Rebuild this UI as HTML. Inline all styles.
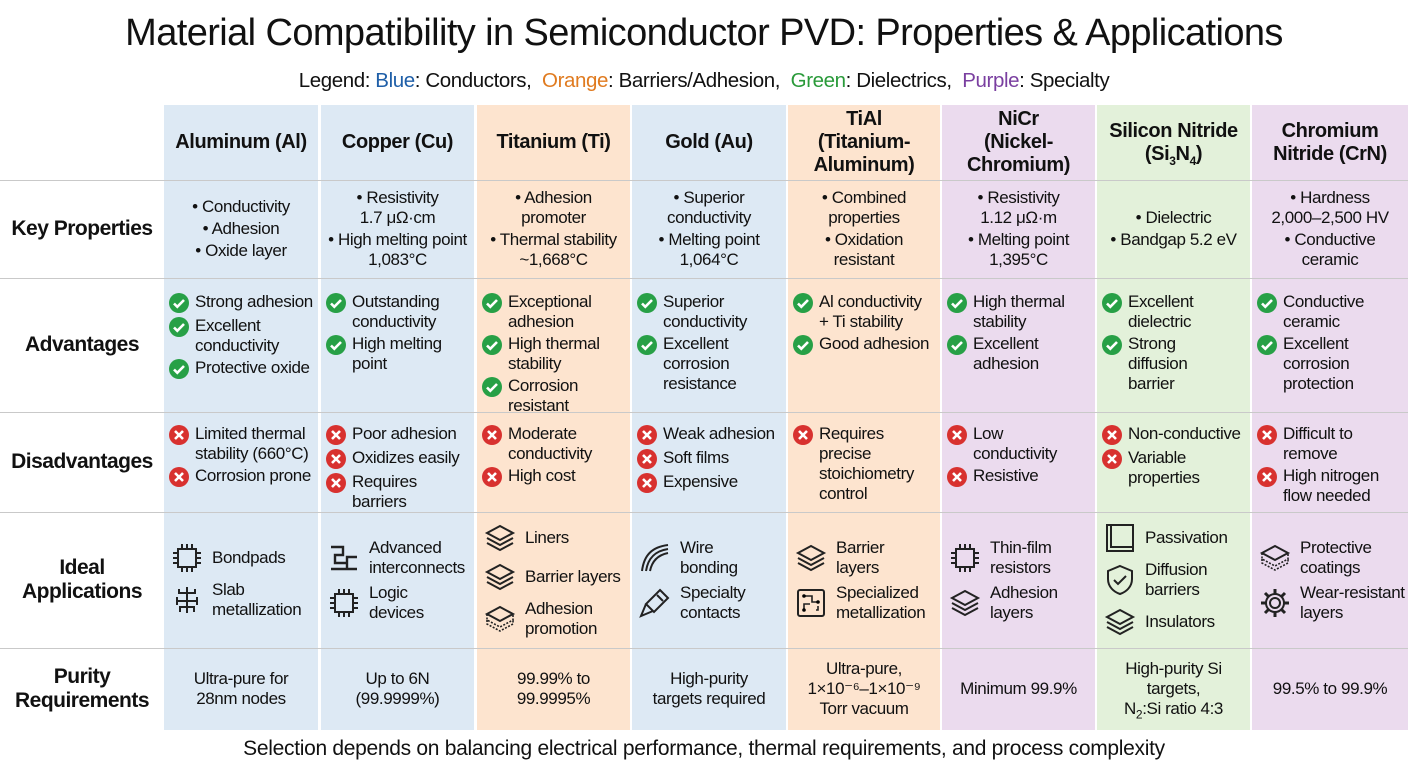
<!DOCTYPE html>
<html><head><meta charset="utf-8">
<style>
*{margin:0;padding:0;box-sizing:border-box}
body{width:1408px;height:768px;background:#fff;font-family:"Liberation Sans",sans-serif;color:#111;position:relative;overflow:hidden}
.abs{position:absolute}
#title{left:0;width:1408px;top:12px;text-align:center;font-size:38px;letter-spacing:-0.6px}
#legend{left:0;width:1408px;top:69px;text-align:center;font-size:20.5px;letter-spacing:-0.4px}
#footer{left:0;width:1408px;top:737px;text-align:center;font-size:21px;letter-spacing:-0.3px}
.col{position:absolute;top:105px;height:625px}
.blue{background:#dde9f4}.orange{background:#fde4cf}.purple{background:#ebdbee}.green{background:#e3f1da}
.hline{position:absolute;left:0;width:1408px;height:1px;background:#c9c9c9}
.cell{position:absolute;display:flex;flex-direction:column;justify-content:center;font-size:17px;letter-spacing:-0.4px;line-height:20px}
.c{align-items:center;text-align:center}
.hdr{font-weight:bold;font-size:20px;line-height:23px;text-align:center;align-items:center}
.rh{font-weight:bold;font-size:21px;line-height:24px;text-align:center;align-items:center;letter-spacing:-0.5px}
.it{display:flex;align-items:flex-start;margin:2px 0}
.it .ic{flex:0 0 22px;width:22px;height:22px;margin-right:5px}
.ap{display:flex;align-items:center;margin:5px 0}
.ap svg{flex:0 0 34px;margin-right:8px}
sub{font-size:12px;line-height:0}
</style></head><body>
<div id="title" class="abs">Material Compatibility in Semiconductor PVD: Properties &amp; Applications</div>
<div id="legend" class="abs">Legend: <span style="color:#1f5fa8">Blue</span>: Conductors, &nbsp;<span style="color:#e07b20">Orange</span>: Barriers/Adhesion, &nbsp;<span style="color:#2a9a3a">Green</span>: Dielectrics, &nbsp;<span style="color:#7a3fa0">Purple</span>: Specialty</div>
<div id="table"></div>
<div id="footer" class="abs">Selection depends on balancing electrical performance, thermal requirements, and process complexity</div>
<script>
const colX=[164,321,477,632,788,942,1097,1252];
const colW=[154,153,153,154,152,153,153,156];
const colors=['blue','blue','orange','blue','orange','purple','green','purple'];
const headers=['Aluminum (Al)','Copper (Cu)','Titanium (Ti)','Gold (Au)','TiAl<br>(Titanium-<br>Aluminum)','NiCr<br>(Nickel-<br>Chromium)','Silicon Nitride<br>(Si<sub>3</sub>N<sub>4</sub>)','Chromium<br>Nitride (CrN)'];
const rowY=[105,180,278,412,512,648,730];
const rowNames=['','Key Properties','Advantages','Disadvantages','Ideal<br>Applications','Purity<br>Requirements'];
const keyProps=[
['• Conductivity','• Adhesion','• Oxide layer'],
['• Resistivity<br>1.7 μΩ·cm','• High melting point<br>1,083°C'],
['• Adhesion<br>promoter','• Thermal stability<br>~1,668°C'],
['• Superior<br>conductivity','• Melting point<br>1,064°C'],
['• Combined<br>properties','• Oxidation<br>resistant'],
['• Resistivity<br>1.12 μΩ·m','• Melting point<br>1,395°C'],
['• Dielectric','• Bandgap 5.2 eV'],
['• Hardness<br>2,000–2,500 HV','• Conductive<br>ceramic']];
const adv=[
['Strong adhesion','Excellent<br>conductivity','Protective oxide'],
['Outstanding<br>conductivity','High melting<br>point'],
['Exceptional<br>adhesion','High thermal<br>stability','Corrosion<br>resistant'],
['Superior<br>conductivity','Excellent<br>corrosion<br>resistance'],
['Al conductivity<br>+ Ti stability','Good adhesion'],
['High thermal<br>stability','Excellent<br>adhesion'],
['Excellent<br>dielectric','Strong<br>diffusion<br>barrier'],
['Conductive<br>ceramic','Excellent<br>corrosion<br>protection']];
const dis=[
['Limited thermal<br>stability (660°C)','Corrosion prone'],
['Poor adhesion','Oxidizes easily','Requires<br>barriers'],
['Moderate<br>conductivity','High cost'],
['Weak adhesion','Soft films','Expensive'],
['Requires<br>precise<br>stoichiometry<br>control'],
['Low<br>conductivity','Resistive'],
['Non-conductive','Variable<br>properties'],
['Difficult to<br>remove','High nitrogen<br>flow needed']];
const apps=[
[['chip','Bondpads'],['tree','Slab<br>metallization']],
[['wire','Advanced<br>interconnects'],['chip','Logic<br>devices']],
[['layers','Liners'],['layers','Barrier layers'],['slab','Adhesion<br>promotion']],
[['bond','Wire<br>bonding'],['probe','Specialty<br>contacts']],
[['layers','Barrier<br>layers'],['board','Specialized<br>metallization']],
[['chip','Thin-film<br>resistors'],['layers','Adhesion<br>layers']],
[['square','Passivation'],['shield','Diffusion<br>barriers'],['layers','Insulators']],
[['slab','Protective<br>coatings'],['gear','Wear-resistant<br>layers']]];
const purity=['Ultra-pure for<br>28nm nodes','Up to 6N<br>(99.9999%)','99.99% to<br>99.9995%','High-purity<br>targets required','Ultra-pure,<br>1×10⁻⁶–1×10⁻⁹<br>Torr vacuum','Minimum 99.9%','High-purity Si<br>targets,<br>N<sub>2</sub>:Si ratio 4:3','99.5% to 99.9%'];

const T=document.getElementById('table');
function mk(cls,x,y,w,h,html){const d=document.createElement('div');d.className=cls;d.style.left=x+'px';d.style.top=y+'px';d.style.width=w+'px';d.style.height=h+'px';if(html!==undefined)d.innerHTML='<div>'+html+'</div>';T.appendChild(d);return d;}
const check='<svg class="ic" viewBox="0 0 22 22"><circle cx="11" cy="11" r="10" fill="#27a046"/><path d="M6 11.5l3.3 3.3L16 8" stroke="#fff" stroke-width="2.6" fill="none"/></svg>';
const cross='<svg class="ic" viewBox="0 0 22 22"><circle cx="11" cy="11" r="10" fill="#d8312f"/><path d="M7 7l8 8M15 7l-8 8" stroke="#fff" stroke-width="2.6"/></svg>';
const icons={
chip:'<rect x="8" y="8" width="18" height="18" fill="none" stroke="#222" stroke-width="2"/><path d="M12 8V3M17 8V3M22 8V3M12 26v5M17 26v5M22 26v5M8 12H3M8 17H3M8 22H3M26 12h5M26 17h5M26 22h5" stroke="#222" stroke-width="2"/>',
tree:'<path d="M17 4v26M17 10h-8v-4M17 10h8v-4M17 18h-10M17 18h10M17 24h-7v5M17 24h7v5M7 14v8M27 14v8" stroke="#222" stroke-width="2" fill="none"/>',
wire:'<path d="M4 6h12v8H8v8h12v-6h10M4 28h26M20 22v6" stroke="#222" stroke-width="2.4" fill="none"/>',
layers:'<path d="M17 5l13 7-13 7-13-7z" fill="none" stroke="#222" stroke-width="2"/><path d="M4 17l13 7 13-7M4 22l13 7 13-7" fill="none" stroke="#222" stroke-width="2"/>',
slab:'<path d="M17 5l13 7-13 7-13-7z" fill="none" stroke="#222" stroke-width="2"/><path d="M4 12v6l13 7 13-7v-6M4 18v4l13 7 13-7v-4" fill="none" stroke="#222" stroke-width="1.6" stroke-dasharray="2 1.5"/>',
bond:'<path d="M4 30C6 14 14 6 30 4M8 30C10 17 17 10 30 8M12 30C14 20 20 14 30 12" fill="none" stroke="#222" stroke-width="2"/>',
probe:'<path d="M22 4l8 8-14 14-8-8z" fill="none" stroke="#222" stroke-width="2"/><path d="M8 18l-5 12 12-5M19 9l6 6" fill="none" stroke="#222" stroke-width="2"/>',
board:'<rect x="4" y="4" width="26" height="26" rx="2" fill="none" stroke="#222" stroke-width="2"/><path d="M10 10h8v6h6M10 24v-6h6M22 24h2v-4" fill="none" stroke="#222" stroke-width="1.6"/><circle cx="10" cy="10" r="1.8"/><circle cx="24" cy="16" r="1.8"/><circle cx="10" cy="24" r="1.8"/>',
square:'<rect x="4" y="4" width="26" height="26" fill="none" stroke="#222" stroke-width="2"/><path d="M8 4v22h22" fill="none" stroke="#222" stroke-width="2"/>',
shield:'<path d="M17 3l12 5v8c0 8-6 13-12 15-6-2-12-7-12-15V8z" fill="none" stroke="#222" stroke-width="2"/><path d="M11 17l4 4 8-8" fill="none" stroke="#222" stroke-width="2"/>',
gear:'<circle cx="17" cy="17" r="5" fill="none" stroke="#222" stroke-width="2"/><circle cx="17" cy="17" r="9" fill="none" stroke="#222" stroke-width="2"/><path d="M17 3v5M17 26v5M3 17h5M26 17h5M7 7l3.5 3.5M23.5 23.5L27 27M27 7l-3.5 3.5M10.5 23.5L7 27" stroke="#222" stroke-width="3"/>'
};
for(let i=0;i<8;i++){
  const c=mk('col '+colors[i],colX[i],105,colW[i],625);
  
  
}
for(let r=1;r<6;r++){
  const l=mk('hline',0,rowY[r],1408,1);
  
  
  const h=mk('cell rh',0,rowY[r],164,rowY[r+1]-rowY[r],rowNames[r]);
  
  
}
for(let i=0;i<8;i++){
  const x=colX[i],w=colW[i];
  const h=mk('cell hdr',x,105,w,75,headers[i]);
  
  
  const k=mk('cell c',x,rowY[1],w,rowY[2]-rowY[1],keyProps[i].map(s=>'<div style="margin:2px 0">'+s+'</div>').join(''));
  
  
  const a=mk('cell',x+4,rowY[2],w-6,rowY[3]-rowY[2],adv[i].map(s=>'<div class="it">'+check+'<span>'+s+'</span></div>').join(''));
  a.style.justifyContent='flex-start';a.style.paddingTop='12px';
  
  
  const d=mk('cell',x+4,rowY[3],w-6,rowY[4]-rowY[3],dis[i].map(s=>'<div class="it">'+cross+'<span>'+s+'</span></div>').join(''));
  d.style.justifyContent='flex-start';d.style.paddingTop='10px';
  
  
  const p=mk('cell',x+6,rowY[4],w-8,rowY[5]-rowY[4],apps[i].map(s=>'<div class="ap"><svg width="34" height="34" viewBox="0 0 34 34">'+icons[s[0]]+'</svg><span>'+s[1]+'</span></div>').join(''));
  
  
  const q=mk('cell c',x,rowY[5],w,rowY[6]-rowY[5],purity[i]);
  
  
}
</script>
</body></html>
